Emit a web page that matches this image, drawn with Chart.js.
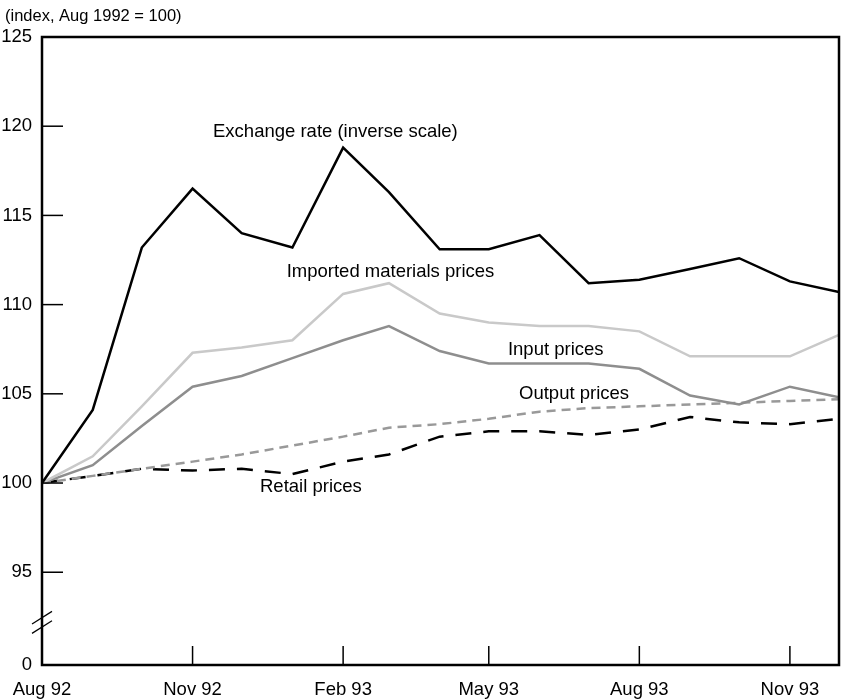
<!DOCTYPE html>
<html>
<head>
<meta charset="utf-8">
<script src="https://cdn.jsdelivr.net/npm/chart.js@4/dist/chart.umd.min.js"></script>
<style>
  body { margin: 0; background: #fff; }
</style>
</head>
<body>
<canvas id="chart" width="841" height="699"></canvas>
<script>
// monthly observations, first of month
var months = ['1992-08', '1992-09', '1992-10', '1992-11', '1992-12', '1993-01', '1993-02', '1993-03',
  '1993-04', '1993-05', '1993-06', '1993-07', '1993-08', '1993-09', '1993-10', '1993-11', '1993-12'];

var exchangeRate   = [100, 104.1, 113.2, 116.5, 114.0, 113.2, 118.8, 116.3, 113.1, 113.1, 113.9, 111.2, 111.4, 112.0, 112.6, 111.3, 110.7];
var importedPrices = [100, 101.5, 104.3, 107.3, 107.6, 108.0, 110.6, 111.2, 109.5, 109.0, 108.8, 108.8, 108.5, 107.1, 107.1, 107.1, 108.3];
var inputPrices    = [100, 101.0, 103.2, 105.4, 106.0, 107.0, 108.0, 108.8, 107.4, 106.7, 106.7, 106.7, 106.4, 104.9, 104.4, 105.4, 104.8];
var outputPrices   = [100, 100.4, 100.8, 101.2, 101.6, 102.1, 102.6, 103.1, 103.3, 103.6, 104.0, 104.2, 104.3, 104.4, 104.5, 104.6, 104.7];
var retailPrices   = [100, 100.4, 100.8, 100.7, 100.8, 100.5, 101.2, 101.6, 102.6, 102.9, 102.9, 102.7, 103.0, 103.7, 103.4, 103.3, 103.6];

var seriesNames = ['Exchange rate (inverse scale)', 'Imported materials prices', 'Input prices', 'Output prices', 'Retail prices'];

var tickMonths = ['1992-08', '1992-11', '1993-02', '1993-05', '1993-08', '1993-11'];
var tickLabels = ['Aug 92', 'Nov 92', 'Feb 93', 'May 93', 'Aug 93', 'Nov 93'];

// axis is broken: bottom of the axis is labelled 0
var yBottom = 89.8;
var yTicks = [yBottom, 95, 100, 105, 110, 115, 120, 125];
var yTickLabels = ['0', '95', '100', '105', '110', '115', '120', '125'];

var unitNote = '(index, Aug 1992 = 100)';

function dayOf(m) {
  var p = m.split('-');
  return (Date.UTC(+p[0], +p[1] - 1, 1) - Date.UTC(1992, 7, 1)) / 86400000;
}

function points(values) {
  return values.map(function(v, i) { return { x: dayOf(months[i]), y: v }; });
}

// where each series name sits, in data units (day, index value)
var nameSpots = [[104.5, 119.7], [149.5, 111.85], [284.7, 107.45], [291.5, 105.0], [133.2, 99.78]];

var FONT = '"Liberation Sans", Arial, sans-serif';

var decor = {
  id: 'decor',
  afterDraw: function(chart) {
    var ctx = chart.ctx, a = chart.chartArea, xs = chart.scales.x, ys = chart.scales.y;
    function line(x1, y1, x2, y2) {
      ctx.beginPath(); ctx.moveTo(x1, y1); ctx.lineTo(x2, y2); ctx.stroke();
    }
    ctx.save();
    ctx.strokeStyle = '#000';
    ctx.lineWidth = 1.5;
    yTicks.slice(1, -1).forEach(function(v) {
      var py = ys.getPixelForValue(v);
      line(a.left, py, a.left + 21, py);
    });
    tickMonths.slice(1).forEach(function(m) {
      var px = xs.getPixelForValue(dayOf(m));
      line(px, a.bottom, px, a.bottom - 19);
    });
    ctx.lineWidth = 2.5;
    ctx.strokeRect(a.left, a.top, a.right - a.left, a.bottom - a.top);

    // axis break marks
    var by = ys.getPixelForValue(92.2);
    ctx.lineWidth = 1.2;
    line(a.left - 10, by + 1.8, a.left + 10, by - 10.8);
    line(a.left - 10, by + 11.2, a.left + 10, by - 1.4);

    ctx.fillStyle = '#000';
    ctx.textAlign = 'left';
    ctx.textBaseline = 'middle';
    ctx.font = '18.5px ' + FONT;
    seriesNames.forEach(function(name, i) {
      ctx.fillText(name, xs.getPixelForValue(nameSpots[i][0]), ys.getPixelForValue(nameSpots[i][1]));
    });
    ctx.font = '16.5px ' + FONT;
    ctx.fillText(unitNote, 5, 16);
    ctx.restore();
  }
};

Chart.defaults.font.family = FONT;
Chart.defaults.font.size = 18.5;
Chart.defaults.color = '#000';

var ctx = document.getElementById('chart');
var myChart = new Chart(ctx, {
  type: 'line',
  data: {
    datasets: [
      { label: seriesNames[0], data: points(exchangeRate), borderColor: '#000', borderWidth: 2.5 },
      { label: seriesNames[1], data: points(importedPrices), borderColor: '#c9c9c9', borderWidth: 2.5 },
      { label: seriesNames[2], data: points(inputPrices), borderColor: '#8e8e8e', borderWidth: 2.5 },
      { label: seriesNames[3], data: points(outputPrices), borderColor: '#999', borderWidth: 2.5, borderDash: [9, 6] },
      { label: seriesNames[4], data: points(retailPrices), borderColor: '#000', borderWidth: 2.5, borderDash: [16, 12] }
    ]
  },
  options: {
    responsive: false,
    animation: false,
    events: [],
    layout: { padding: { top: 37, right: 2, left: 0, bottom: 0 } },
    elements: {
      point: { radius: 0 },
      line: { tension: 0, fill: false, borderCapStyle: 'butt' }
    },
    plugins: {
      legend: { display: false },
      tooltip: { enabled: false }
    },
    scales: {
      x: {
        type: 'linear',
        min: 0,
        max: dayOf(months[months.length - 1]),
        grid: { display: false },
        border: { display: false },
        afterBuildTicks: function(scale) {
          scale.ticks = tickMonths.map(function(m) { return { value: dayOf(m) }; });
        },
        afterFit: function(scale) { scale.height = 34; },
        ticks: {
          autoSkip: false,
          maxRotation: 0,
          padding: 6,
          callback: function(value, index) { return tickLabels[index]; }
        }
      },
      y: {
        min: yBottom,
        max: 125,
        grid: { display: false, drawTicks: false },
        border: { display: false },
        afterBuildTicks: function(scale) {
          scale.ticks = yTicks.map(function(v) { return { value: v }; });
        },
        afterFit: function(scale) { scale.width = 42; },
        ticks: {
          padding: 10,
          callback: function(value, index) { return yTickLabels[index]; }
        }
      }
    }
  },
  plugins: [decor]
});
</script>
</body>
</html>
